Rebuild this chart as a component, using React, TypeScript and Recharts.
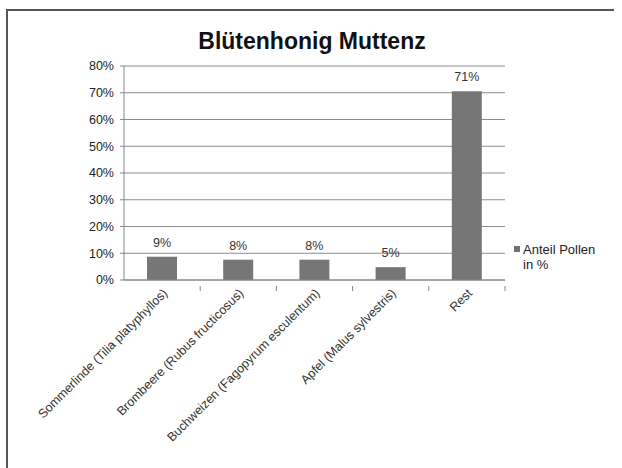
import React from 'react';
import { BarChart, Bar, XAxis, YAxis, CartesianGrid, LabelList } from 'recharts';

const categories = [
  'Sommerlinde (Tilia platyphyllos)',
  'Brombeere (Rubus fructicosus)',
  'Buchweizen (Fagopyrum esculentum)',
  'Apfel (Malus sylvestris)',
  'Rest',
];
const pollenShare = [8.7, 7.6, 7.6, 4.8, 70.6];
const yTicks = [0, 10, 20, 30, 40, 50, 60, 70, 80];

const data = categories.map((name, i) => ({ name, share: pollenShare[i] }));

const FONT = '"Liberation Sans", Arial, sans-serif';
const HALF_BAND = 38.1;

const XTick = (props: any) => {
  const { x, y, payload } = props;
  const tx = x + 6;
  const ty = y + 6;
  return (
    <g>
      <line x1={x + HALF_BAND} y1={y - 2} x2={x + HALF_BAND} y2={y + 3} stroke="#888" />
      <text
        x={tx}
        y={ty}
        transform={`rotate(-45, ${tx}, ${ty})`}
        textAnchor="end"
        fontSize={12.5}
        fill="#333"
        fontFamily={FONT}
      >
        {payload.value}
      </text>
    </g>
  );
};

const App: React.FC = () => {
  return (
    <div style={{ position: 'absolute', left: 0, top: 0, width: 622, height: 468, background: '#fff', overflow: 'hidden' }}>
      <div
        style={{
          position: 'absolute',
          left: 6,
          top: 9,
          width: 606,
          height: 470,
          borderTop: '2px solid #555',
          borderLeft: '2px solid #555',
        }}
      />
      <div
        style={{
          position: 'absolute',
          left: 0,
          top: 28,
          width: 624,
          textAlign: 'center',
          fontFamily: FONT,
          fontWeight: 'bold',
          fontSize: 23,
          color: '#111',
        }}
      >
        Blütenhonig Muttenz
      </div>
      <div
        style={{
          position: 'absolute',
          left: 514,
          top: 242,
          display: 'flex',
          alignItems: 'flex-start',
          fontFamily: FONT,
          fontSize: 13,
          color: '#222',
        }}
      >
        <span style={{ width: 6, height: 6, background: '#707070', marginTop: 4, marginRight: 3, flexShrink: 0 }} />
        <span style={{ lineHeight: '15px', width: 85 }}>
          Anteil Pollen
          <br />
          in %
        </span>
      </div>
      <div style={{ position: 'absolute', left: 0, top: 0 }}>
        <BarChart
          width={622}
          height={468}
          data={data}
          margin={{ top: 66, right: 117, left: 64, bottom: 8 }}
          barSize={30}
        >
          <CartesianGrid vertical={false} stroke="#8c8c8c" />
          <XAxis
            dataKey="name"
            interval={0}
            height={180}
            tick={<XTick />}
            tickLine={false}
            axisLine={{ stroke: '#888' }}
          />
          <YAxis
            width={60}
            domain={[0, 80]}
            ticks={yTicks}
            tickFormatter={(v) => `${v}%`}
            tick={{ fontSize: 12.5, fill: '#222', fontFamily: FONT, dx: -4 }}
            tickSize={4}
            tickLine={{ stroke: '#888' }}
            axisLine={{ stroke: '#888' }}
          />
          <Bar dataKey="share" name="Anteil Pollen in %" fill="#767676" isAnimationActive={false}>
            <LabelList
              dataKey="share"
              position="top"
              offset={10}
              formatter={(v: any) => `${Math.round(Number(v))}%`}
              style={{ fontSize: 12.5, fill: '#333', fontFamily: FONT }}
            />
          </Bar>
        </BarChart>
      </div>
      <div style={{ position: 'absolute', left: 612, top: 12, width: 10, height: 460, background: '#fff' }} />
    </div>
  );
};

export default App;
